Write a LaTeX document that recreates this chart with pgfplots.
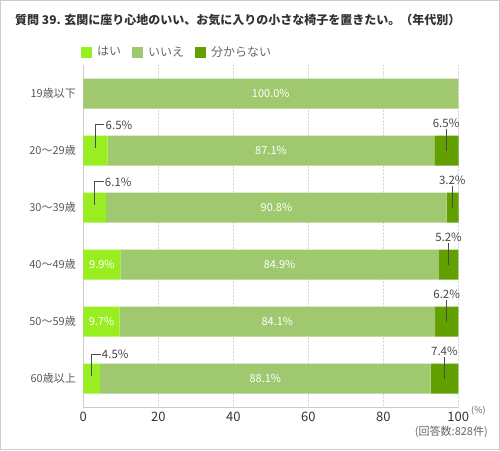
\documentclass[border=0pt]{standalone}
\usepackage{fontspec}
\setmainfont{Noto Sans CJK JP}
\usepackage{pgfplots}
\pgfplotsset{compat=1.18}
\definecolor{hai}{HTML}{99EE22}
\definecolor{iie}{HTML}{A0C86E}
\definecolor{wak}{HTML}{62A000}
\definecolor{txt}{HTML}{444444}
\tikzset{
  inlab/.style={font=\fontsize{11}{13}\selectfont, text=white},
  ldrlab/.style={font=\fontsize{11.5}{13}\selectfont, text=txt, inner sep=1pt},
  ldr/.style={black!70, line width=0.8pt},
}
\begin{document}
\begin{tikzpicture}[x=1pt,y=1pt]
\draw[black!20, line width=1pt] (0.5,0.5) rectangle (499.5,449.5);
\node[anchor=west, font=\fontsize{12}{14}\selectfont\bfseries, text=black!80, inner sep=0pt] at (15,430) {質問 39. 玄関に座り心地のいい、お気に入りの小さな椅子を置きたい。（年代別）};
\begin{axis}[
  at={(83.3pt,43pt)}, anchor=south west, scale only axis,
  width=375pt, height=342pt,
  xbar stacked, bar width=30pt,
  xmin=0, xmax=100, ymin=-0.5, ymax=5.5,
  clip=false,
  ytick={0,1,2,3,4,5},
  yticklabels={60歳以上,50～59歳,40～49歳,30～39歳,20～29歳,19歳以下},
  xtick={0,20,40,60,80,100},
  axis x line*=bottom, axis y line*=left,
  axis line style={draw=black!20, line width=1pt},
  major tick length=0pt,
  xmajorgrids, grid style={densely dotted, black!15},
  /pgf/number format/assume math mode=true,
  xticklabel style={font=\fontsize{13}{15}\selectfont, text=black!80, yshift=-2pt},
  yticklabel style={font=\fontsize{11}{13}\selectfont, text=black!65, xshift=-4pt},
  legend style={at={(0,1)}, anchor=south west, xshift=-2.5pt, yshift=5pt,
    draw=none, fill=none, legend columns=-1, inner sep=0pt, column sep=3pt,
    font=\fontsize{12}{14}\selectfont, text=black!60},
  legend image code/.code={\fill[#1] (0pt,-5.5pt) rectangle (11pt,5.5pt);},
]
\addplot[fill=hai, draw=none] coordinates {(4.5,0) (9.7,1) (9.9,2) (6.1,3) (6.5,4) (0,5)};
\addlegendentry{はい\rule{6pt}{0pt}}
\addplot[fill=iie, draw=none] coordinates {(88.1,0) (84.1,1) (84.9,2) (90.8,3) (87.1,4) (100,5)};
\addlegendentry{いいえ\rule{6pt}{0pt}}
\addplot[fill=wak, draw=none] coordinates {(7.4,0) (6.2,1) (5.2,2) (3.2,3) (6.5,4) (0,5)};
\addlegendentry{分からない}
% anchor points for labels
\coordinate (n0) at (axis cs:50,5);
\coordinate (n1) at (axis cs:50.05,4);
\coordinate (n2) at (axis cs:51.5,3);
\coordinate (n3) at (axis cs:52.35,2);
\coordinate (n4) at (axis cs:51.75,1);
\coordinate (n5) at (axis cs:48.55,0);
\coordinate (h3) at (axis cs:4.95,2);
\coordinate (h4) at (axis cs:4.85,1);
\coordinate (a1) at (axis cs:3.25,4.05);
\coordinate (b1) at (axis cs:3.25,4.45);
\coordinate (c1) at (axis cs:5.6,4.45);
\coordinate (a2) at (axis cs:3.05,3.05);
\coordinate (b2) at (axis cs:3.05,3.45);
\coordinate (c2) at (axis cs:5.4,3.45);
\coordinate (a5) at (axis cs:2.25,0.05);
\coordinate (b5) at (axis cs:2.25,0.42);
\coordinate (c5) at (axis cs:4.6,0.42);
\coordinate (d1) at (axis cs:96.75,4);
\coordinate (e1) at (axis cs:96.75,4.38);
\coordinate (d2) at (axis cs:98.4,3);
\coordinate (e2) at (axis cs:98.4,3.38);
\coordinate (d3) at (axis cs:97.4,2);
\coordinate (e3) at (axis cs:97.4,2.38);
\coordinate (d4) at (axis cs:96.9,1);
\coordinate (e4) at (axis cs:96.9,1.38);
\coordinate (d5) at (axis cs:96.3,0);
\coordinate (e5) at (axis cs:96.3,0.38);
\end{axis}
\node[inlab] at (n0) {100.0\%};
\node[inlab] at (n1) {87.1\%};
\node[inlab] at (n2) {90.8\%};
\node[inlab] at (n3) {84.9\%};
\node[inlab] at (n4) {84.1\%};
\node[inlab] at (n5) {88.1\%};
\node[inlab] at (h3) {9.9\%};
\node[inlab] at (h4) {9.7\%};
\draw[ldr] (a1) -- (b1) -- (c1) node[ldrlab, anchor=west] {6.5\%};
\draw[ldr] (a2) -- (b2) -- (c2) node[ldrlab, anchor=west] {6.1\%};
\draw[ldr] (a5) -- (b5) -- (c5) node[ldrlab, anchor=west] {4.5\%};
\draw[ldr] (d1) -- (e1) node[ldrlab, anchor=south] {6.5\%};
\draw[ldr] (d2) -- (e2) node[ldrlab, anchor=south] {3.2\%};
\draw[ldr] (d3) -- (e3) node[ldrlab, anchor=south] {5.2\%};
\draw[ldr] (d4) -- (e4) node[ldrlab, anchor=south] {6.2\%};
\draw[ldr] (d5) -- (e5) node[ldrlab, anchor=south] {7.4\%};
\node[anchor=west, font=\fontsize{9}{10}\selectfont, text=black!60, inner sep=0pt] at (471,39) {(\%)};
\node[anchor=east, font=\fontsize{11}{13}\selectfont, text=black!60, inner sep=0pt] at (488,18) {(回答数:828件)};
\end{tikzpicture}
\end{document}
